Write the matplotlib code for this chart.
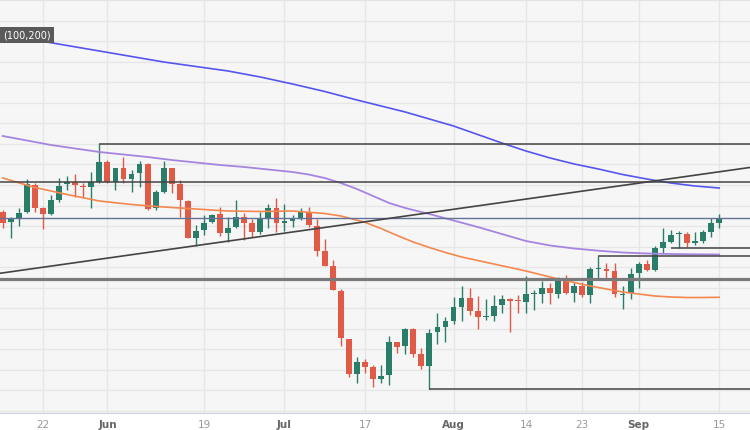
import numpy as np
import pandas as pd
import matplotlib.pyplot as plt

# daily candles, 15 May - 15 Sep 2023 (price in chart units)
dates = pd.bdate_range('2023-05-15', '2023-09-15')

opens = [288.3, 278, 281, 288, 315, 292, 286, 300, 316, 317.7,
         314.3, 313.3, 318, 338.3, 318, 332.3, 320.7, 326.7, 336, 291.7,
         308.3, 331.7, 316, 299, 261.7, 270, 277.7, 285.7, 266.7, 272.7,
         283.3, 276.7, 268.5, 281.8, 291.8, 276.7, 279.3, 282.5, 288.5, 274.5,
         249, 234, 209.5, 160.7, 126, 138.3, 133, 120.7, 125, 157.7,
         154, 170.7, 146, 134, 167.7, 173, 179.3, 193.3, 202.5, 189.2,
         182.7, 184, 195, 201, 200, 198.3, 205.7, 206, 212.3, 206,
         221.7, 206.7, 214, 205, 230.7, 230.7, 229, 205, 206.7, 227.3,
         235.7, 230, 251.7, 258.3, 265.7, 266, 257.3, 259.3, 268.3, 276.7]
highs = [290, 283, 292, 321, 317, 293, 305, 322, 324, 326,
         317, 328, 356, 340, 332, 343.3, 330, 339.3, 337.3, 310,
         339.3, 331.7, 320, 300, 275, 285, 286, 293.3, 282.7, 300.5,
         287, 281, 288, 296, 301.7, 296.5, 285, 292, 293.5, 281.5,
         260.7, 240.5, 211.5, 160.7, 143.5, 140.7, 135, 135, 164.5, 158.3,
         172.3, 172.3, 152.5, 171.2, 186.7, 183, 203, 214.5, 211.7, 204.5,
         201, 205, 205, 201.7, 205, 224, 210, 219.3, 216.7, 223.3,
         225, 218.3, 218.3, 233.3, 243.7, 237.3, 236.7, 214, 231.7, 238.3,
         240, 254, 271.7, 270, 269.3, 267.7, 268.3, 270, 281.7, 286]
lows = [272, 262, 274, 287, 288, 271, 285, 298, 310, 303,
        303, 292, 317, 317, 310, 316.7, 308.3, 313.3, 290, 290,
        306.7, 307.3, 282.7, 261.7, 254, 265, 276.7, 264, 258, 271.7,
        260, 263.3, 266, 272, 268.3, 269, 273.3, 280, 273.3, 244.5,
        234, 210, 154.5, 123.3, 117.5, 126.7, 113, 116.7, 115, 147.5,
        146, 143.3, 131, 110.7, 156, 158.3, 176, 179, 185, 171,
        180, 179.5, 186.7, 168.3, 186.7, 187.3, 190, 197.3, 196, 201.7,
        206, 198.3, 203.3, 196.7, 221, 221.7, 202.7, 190.7, 200.7, 211.7,
        229.3, 229.3, 246.7, 256.7, 251.7, 252.7, 255, 257.3, 262.7, 271.7]
closes = [277.3, 281, 287.3, 316, 292, 286, 300, 314, 317.7, 315,
          312.7, 317.7, 338, 318.3, 332, 320.7, 325.7, 336, 291, 307.7,
          331.7, 316, 300, 261.7, 269.3, 277.3, 285, 266.7, 272.3, 283.3,
          277.3, 268.5, 281.8, 291.8, 276.7, 279, 282.5, 288.5, 275, 249.3,
          234.5, 210.5, 161.7, 126, 138.3, 133.3, 121, 124, 158, 153.5,
          170.7, 146, 134, 167.5, 172.7, 179, 193, 202.5, 189.3, 182.7,
          184, 194.5, 200.7, 199.3, 198.8, 205.7, 206.7, 212.3, 206.7, 221.7,
          206.7, 214.3, 205, 230.7, 231.7, 228.7, 206, 206, 226, 235.7,
          230, 251.7, 258.3, 265, 266.7, 257.3, 259, 268.3, 276.7, 281.7]

# moving averages read at selected candles
sma50_idx = [0, 4, 8, 12, 16, 20, 24, 28, 32, 36, 40, 42, 45, 47, 49, 51,
             53, 55, 57, 59, 61, 63, 65, 67, 69, 71, 73, 75, 77, 79, 81, 83,
             85, 87, 89]
sma50 = [322, 312.5, 305.5, 299, 295.5, 293, 291, 289, 288.5, 289, 286.5,
         284, 277.7, 271.5, 264.5, 258, 252.5, 247.5, 243, 239.5, 236,
         232.5, 229, 225, 221, 217.5, 214, 211, 208, 206, 204, 203, 202.5,
         202.5, 202.7]
sma100_idx = [0, 3, 6, 9, 12, 15, 18, 21, 24, 27, 30, 33, 36, 38, 40, 42,
              44, 46, 48, 50, 53, 56, 59, 62, 65, 68, 71, 74, 77, 80, 83,
              86, 89]
sma100 = [364, 359.5, 355, 351.5, 348, 345.5, 343, 340, 337.5, 335, 333,
          330.5, 328, 325.5, 322, 317, 311, 304, 297, 292, 286, 279.5, 273,
          266, 259, 254.5, 251.5, 249.3, 247.5, 246.5, 246, 245.7, 245.5]
sma200_idx = [0, 4, 8, 12, 16, 20, 24, 28, 32, 36, 40, 44, 47, 50, 53, 56,
              59, 62, 65, 68, 71, 74, 77, 80, 83, 86, 89]
sma200 = [466, 460, 454.5, 449, 443.5, 438, 433.5, 429, 423, 416, 408.5,
          400, 394, 388, 381, 374, 365.5, 357, 349, 342, 336, 331, 325.5,
          321, 317, 314, 312]

# drawn levels
full_levels = [317.7, 221]
blue_level = 281.7
partial_levels = [356, 243.7, 251.7, 110.7]
partial_start = [12, 74, 83, 53]
trend_pts = [(0, 227.1), (89, 328.2)]

tick_dates = ['2023-05-22', '2023-06-01', '2023-06-19', '2023-07-03',
              '2023-07-17', '2023-08-01', '2023-08-14', '2023-08-23',
              '2023-09-01', '2023-09-15']
tick_labels = ['22', 'Jun', '19', 'Jul', '17', 'Aug', '14', '23', 'Sep', '15']

green = '#2a7d69'
red = '#e05a48'

fig = plt.figure(figsize=(7.5, 4.3), dpi=100)
ax = fig.add_axes([0, 17 / 430, 1, 413 / 430])
ax.set_facecolor('#f6f6f6')

x = np.arange(len(dates))
o = np.array(opens)
c = np.array(closes)
up = c >= o
colors = np.where(up, green, red)

ax.vlines(x, lows, highs, color=colors, lw=1, zorder=2)
body_lo = np.minimum(o, c)
body_h = np.maximum(np.abs(c - o), 1.0)
ax.bar(x, body_h, bottom=body_lo, width=0.72, color=colors, zorder=2)

ax.plot(sma50_idx, sma50, color='#f4874e', lw=1.2, zorder=3)
ax.plot(sma100_idx, sma100, color='#a585e0', lw=1.3, zorder=3)
ax.plot(sma200_idx, sma200, color='#5555f0', lw=1.2, zorder=3)

xmin, xmax = -0.34, 92.83
ax.axhline(full_levels[0], color='#444444', lw=1.1, zorder=4)
ax.axhline(full_levels[1], color='#7a7a7a', lw=2.3, zorder=4)
ax.axhline(blue_level, color='#62709a', lw=1, zorder=4)
for lv, st in zip(partial_levels, partial_start):
    ax.hlines(lv, st, xmax, color='#444444', lw=1.1, zorder=4)
ax.axline(trend_pts[0], trend_pts[1], color='#444444', lw=1.2, zorder=4)

ax.set_xlim(xmin, xmax)
ax.set_ylim(87, 500)

tick_pos = [dates.get_loc(pd.Timestamp(d)) for d in tick_dates]
ax.set_xticks(tick_pos)
ax.set_xticklabels(tick_labels)
for lab in ax.get_xticklabels():
    if lab.get_text().isalpha():
        lab.set_color('#666666')
        lab.set_fontweight('bold')
    else:
        lab.set_color('#999999')
ax.tick_params(axis='x', length=0, labelsize=7.5, pad=5)
ax.set_yticks(500 - 20.55 * np.arange(1, 21))
ax.tick_params(axis='y', length=0, labelleft=False)
ax.grid(True, color='#e6e6e6', lw=0.9, zorder=0)
ax.set_axisbelow(True)

for s in ['left', 'right']:
    ax.spines[s].set_visible(False)
ax.spines['top'].set_color('#e2e2e8')
ax.spines['bottom'].set_color('#cdd2e2')

fig.text(0.004, 1 - 35 / 430, '(100,200)', ha='left', va='center',
         color='white', fontsize=7,
         bbox=dict(boxstyle='square,pad=0.35', fc='#5a5a5a', ec='none'))

plt.savefig('out.png')
